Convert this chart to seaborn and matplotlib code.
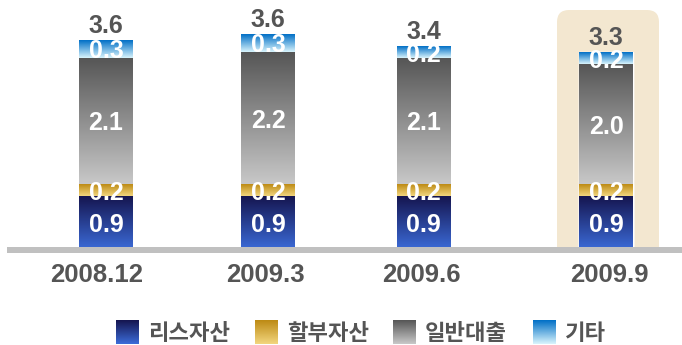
import numpy as np
import pandas as pd
import matplotlib
matplotlib.use("Agg")
import matplotlib.pyplot as plt
import seaborn as sns
from matplotlib.colors import to_rgb
from matplotlib.patches import FancyBboxPatch, Rectangle

# ---- data -------------------------------------------------------------
periods = ["2008.12", "2009.3", "2009.6", "2009.9"]
series = ["리스자산", "할부자산", "일반대출", "기타"]
lease = [0.9, 0.9, 0.9, 0.9]
installment = [0.2, 0.2, 0.2, 0.2]
loans = [2.1, 2.2, 2.1, 2.0]
other = [0.3, 0.3, 0.2, 0.2]
totals = ["3.6", "3.6", "3.4", "3.3"]

# ---- layout (figure pixels) -------------------------------------------
W, H = 682, 345
BASE = 250            # pixel row of the zero line
PX_PER_UNIT = 60.0
bar_x = [106, 268, 423.5, 606]
tick_x = [97, 265.5, 421.5, 609]
BAR_W = 54

# vertical gradients (top colour, bottom colour) per series
gradients = [
    ("#15154f", "#3c6cd9"),
    ("#bd8a14", "#f2d67e"),
    ("#565656", "#c8c8c8"),
    ("#006fc6", "#d9f4fc"),
]
GRAY_TEXT = "#555555"
NUM_FONT = "Liberation Sans"
KR_FONT = ["Noto Sans CJK KR", "DejaVu Sans"]

sns.set_theme(style="white")
plt.rcParams["font.family"] = [NUM_FONT, "DejaVu Sans"]

values = np.array([lease, installment, loans, other])
cum = np.cumsum(values, axis=0)

df = pd.DataFrame({
    "pos": np.tile(bar_x, len(series)),
    "series": np.repeat(series, len(periods)),
    "value": values.ravel(),
    "cum": cum.ravel(),
    "bottom": (cum - values).ravel(),
})

fig = plt.figure(figsize=(W / 100, H / 100), dpi=100)
ax = fig.add_axes([0, (H - BASE) / H, 1, BASE / H])
ax.patch.set_alpha(0)

ymax = BASE / PX_PER_UNIT

# highlighted latest period
hl_left, hl_right, hl_top = 557, 659, (BASE - 10) / PX_PER_UNIT
beige = "#f3e7d0"
ax.add_patch(FancyBboxPatch((hl_left, 1.0), hl_right - hl_left, hl_top - 1.0,
                            boxstyle="round,pad=0,rounding_size=12",
                            mutation_aspect=1 / PX_PER_UNIT,
                            fc=beige, ec="none", zorder=0))
ax.add_patch(Rectangle((hl_left, 0), hl_right - hl_left, 1.5,
                       fc=beige, ec="none", zorder=0))

# stacked bars: cumulative layers drawn from the tallest down
native_w = np.min(np.diff(sorted(bar_x)))
layer_patches = {}
for k in reversed(range(len(series))):
    sub = df[df["series"] == series[k]]
    top_c, bot_c = gradients[k]
    mid = tuple((np.array(to_rgb(top_c)) + np.array(to_rgb(bot_c))) / 2)
    n0 = len(ax.patches)
    sns.barplot(data=sub, x="pos", y="cum", native_scale=True,
                width=BAR_W / native_w, color=mid, saturation=1,
                errorbar=None, ax=ax, zorder=2)
    layer_patches[k] = ax.patches[n0:]

# paint each visible segment with its gradient
for k in range(len(series)):
    top_c, bot_c = gradients[k]
    t = np.linspace(0, 1, 256)[:, None, None]
    grad = (1 - t) * np.array(to_rgb(top_c)) + t * np.array(to_rgb(bot_c))
    sub = df[df["series"] == series[k]].reset_index(drop=True)
    for i, patch in enumerate(layer_patches[k]):
        x0 = patch.get_x()
        x1 = x0 + patch.get_width()
        b, c = sub.loc[i, "bottom"], sub.loc[i, "cum"]
        im = ax.imshow(grad, extent=[x0, x1, b, c], origin="upper",
                       aspect="auto", interpolation="bilinear", zorder=3)
        im.set_clip_path(patch)
        ax.text((x0 + x1) / 2, (b + c) / 2, f"{sub.loc[i, 'value']:.1f}",
                ha="center", va="center_baseline", color="white",
                fontsize=18, fontweight="bold", zorder=5)

# totals above stacks
for i, x in enumerate(bar_x):
    ax.annotate(totals[i], (x, cum[-1, i]), xytext=(0, 5),
                textcoords="offset points", ha="center", va="baseline",
                color=GRAY_TEXT, fontsize=18, fontweight="bold", zorder=5)

ax.set_xlim(0, W)
ax.set_ylim(0, ymax)
ax.set_xlabel("")
ax.set_ylabel("")
ax.set_yticks([])
ax.set_xticks(tick_x, periods)
ax.tick_params(axis="x", length=0, pad=9, labelsize=18.5, labelcolor=GRAY_TEXT)
for lab in ax.get_xticklabels():
    lab.set_fontweight("bold")
for s in ["top", "left", "right"]:
    ax.spines[s].set_visible(False)
ax.spines["bottom"].set_color("#c0c0c0")
ax.spines["bottom"].set_linewidth(6 * 72 / 100)
ax.spines["bottom"].set_bounds(7, W)
ax.spines["bottom"].set_zorder(6)
ax.spines["bottom"].set_capstyle("butt")

# legend with gradient swatches
sw_x = [116, 255, 393, 533]
sw_y0, sw_h, sw_w = 320, 24, 23
for k, name in enumerate(series):
    top_c, bot_c = gradients[k]
    t = np.linspace(0, 1, 64)[:, None, None]
    grad = (1 - t) * np.array(to_rgb(top_c)) + t * np.array(to_rgb(bot_c))
    sax = fig.add_axes([sw_x[k] / W, (H - sw_y0 - sw_h) / H, sw_w / W, sw_h / H])
    sax.imshow(grad, aspect="auto", interpolation="bilinear")
    sax.set_axis_off()
    fig.text((sw_x[k] + sw_w + 9) / W, (H - (sw_y0 + sw_h / 2 + 1)) / H, name,
             ha="left", va="center", family=KR_FONT, fontsize=16,
             fontweight="bold", color=GRAY_TEXT)

fig.savefig("out.png", dpi=100)
